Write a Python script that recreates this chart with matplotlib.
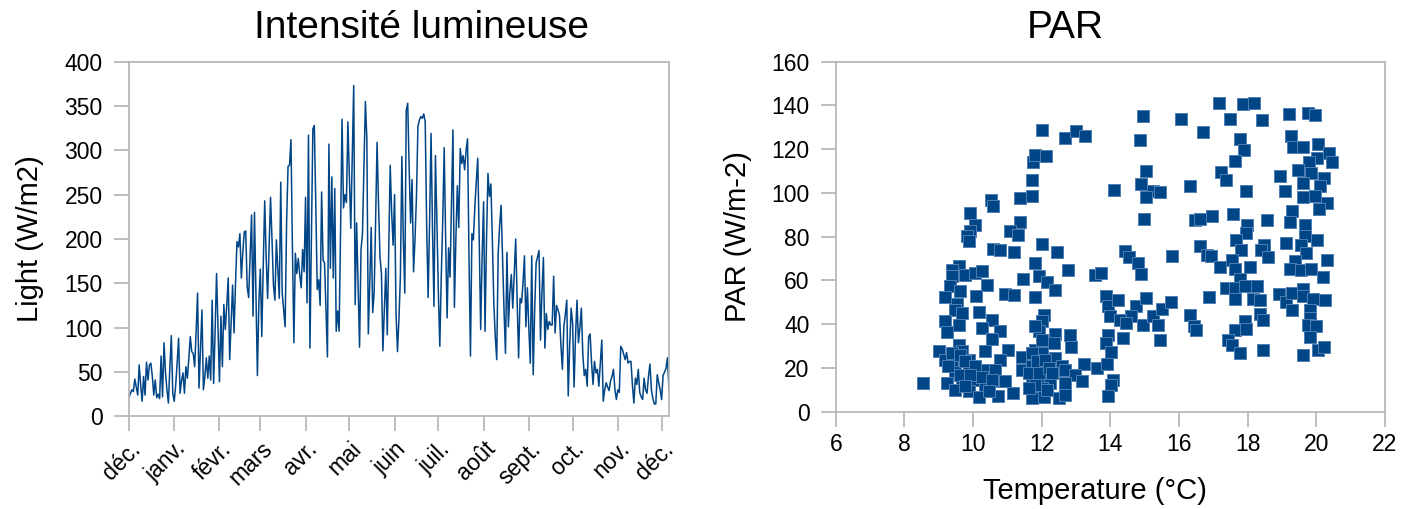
import matplotlib
matplotlib.use("Agg")
import matplotlib.pyplot as plt
import numpy as np
import datetime as dt

plt.rcParams['font.family'] = ['Liberation Sans', 'DejaVu Sans']

# daily light intensity (W/m2), starting 1 December
light = [
    21, 26, 30, 28, 42, 33, 24, 58, 35, 17,
    45, 24, 61, 41, 58, 60, 45, 24, 41, 21,
    25, 20, 68, 22, 83, 50, 30, 15, 55, 91,
    26, 17, 35, 60, 88, 26, 40, 49, 26, 56,
    43, 65, 90, 73, 71, 56, 95, 139, 32, 75,
    120, 30, 45, 66, 43, 68, 41, 131, 37, 95,
    161, 100, 39, 113, 56, 126, 98, 125, 156, 64,
    105, 148, 94, 150, 197, 191, 206, 156, 185, 208,
    209, 146, 134, 180, 227, 113, 230, 140, 46, 128,
    166, 90, 170, 243, 180, 133, 190, 247, 200, 148,
    131, 199, 165, 133, 264, 139, 120, 101, 218, 282,
    283, 312, 190, 83, 184, 161, 178, 160, 145, 188,
    163, 247, 128, 317, 77, 200, 324, 328, 240, 143,
    154, 125, 253, 176, 173, 120, 67, 307, 167, 270,
    156, 257, 96, 119, 96, 210, 335, 235, 250, 241,
    332, 270, 212, 290, 373, 126, 218, 150, 78, 188,
    206, 280, 355, 313, 93, 150, 213, 117, 139, 220,
    309, 240, 180, 161, 74, 120, 167, 92, 190, 283,
    230, 193, 250, 116, 73, 110, 158, 293, 200, 139,
    345, 353, 280, 218, 267, 163, 200, 248, 327, 334,
    338, 336, 341, 332, 214, 134, 220, 319, 210, 124,
    294, 220, 140, 79, 158, 220, 303, 200, 111, 190,
    157, 240, 323, 123, 200, 260, 213, 302, 285, 294,
    278, 300, 313, 180, 68, 206, 199, 236, 265, 291,
    200, 98, 180, 242, 96, 200, 274, 248, 262, 200,
    128, 90, 64, 184, 215, 238, 180, 120, 71, 185,
    101, 140, 160, 122, 160, 200, 130, 66, 133, 128,
    150, 181, 101, 145, 100, 60, 181, 47, 120, 173,
    180, 187, 86, 140, 179, 77, 116, 98, 107, 103,
    103, 158, 94, 125, 120, 114, 80, 53, 101, 115,
    131, 23, 80, 122, 105, 33, 90, 131, 83, 100,
    122, 70, 46, 53, 34, 90, 93, 60, 36, 62,
    49, 53, 34, 60, 86, 17, 30, 38, 33, 29,
    40, 45, 53, 30, 19, 30, 27, 79, 76, 70,
    64, 72, 60, 62, 62, 35, 15, 43, 36, 53,
    27, 22, 19, 43, 30, 26, 45, 59, 30, 20,
    14, 14, 47, 38, 30, 19, 46, 50, 54, 66, 32,
]
start = dt.date(2012, 12, 1)
dates = [start + dt.timedelta(days=i) for i in range(len(light))]
month_labels = ['déc.', 'janv.', 'févr.', 'mars', 'avr.', 'mai', 'juin',
                'juil.', 'août', 'sept.', 'oct.', 'nov.', 'déc.']

# PAR vs temperature
temp = [
    8.55, 12.0, 12.68, 13.0, 13.27, 11.76, 11.81, 12.12, 11.73, 11.37, 11.71,
    10.53, 10.57, 9.9, 10.06, 9.92, 9.82, 9.87, 11.37, 11.08, 11.3, 12.02,
    12.44, 10.59, 10.79, 11.18, 11.81, 12.76, 13.56, 13.73, 9.58, 9.4, 9.38,
    9.77, 10.06, 10.26, 9.33, 9.62, 10.41, 10.09, 11.44, 11.91, 12.15, 12.39,
    9.19, 10.92, 11.18, 11.81, 9.53, 9.48, 9.67, 10.16, 9.19, 9.59, 9.24,
    10.55, 10.26, 10.79, 10.55, 12.08, 12.0, 11.93, 12.39, 12.83, 12.37,
    12.86, 9.01, 9.58, 9.67, 10.35, 11.03, 11.42, 9.19, 9.38, 9.87, 10.79,
    11.81, 12.0, 12.39, 9.48, 9.87, 10.16, 10.4, 10.64, 11.42, 11.71, 12.1,
    12.59, 12.69, 13.22, 13.61, 12.98, 9.67, 9.24, 10.06, 10.64, 10.94,
    11.71, 12.0, 12.25, 12.69, 13.16, 9.48, 9.87, 10.35, 11.15, 12.0, 10.16,
    10.74, 11.71, 12.08, 12.49, 12.69, 9.38, 9.62, 9.77, 9.28, 10.06, 9.62,
    9.91, 10.26, 10.55, 10.45, 9.77, 11.71, 11.86, 12.1, 11.62, 11.91, 12.2,
    11.81, 12.15, 11.62, 12.3, 12.0, 11.81,
    13.88, 13.93, 13.98, 13.93, 13.88, 14.03, 13.9, 14.08, 14.03, 13.93,
    14.22, 14.76, 15.05, 14.61, 14.27, 14.47, 14.95, 15.24, 15.49, 15.78,
    15.39, 14.37, 15.46, 16.33, 16.43, 16.49, 16.88, 14.42, 14.54, 14.81,
    14.9, 15.81, 14.95, 16.07, 14.86, 15.05, 14.9, 15.23, 15.45, 15.03,
    16.31, 14.1, 14.97, 16.46, 16.6, 16.97, 16.7, 17.16, 17.48, 17.87,
    18.18, 18.41, 17.77, 17.89, 17.63, 17.21, 17.36, 17.96, 17.58, 17.99,
    17.96, 17.66, 17.82, 16.62, 16.82, 16.92, 17.19, 17.53, 17.63, 18.06,
    18.49, 18.4, 18.59, 18.57, 17.78, 17.38, 17.63, 17.92, 18.26, 18.16,
    18.35, 17.63, 18.35, 18.45, 17.92, 17.63, 17.96, 17.43, 17.53, 17.77,
    18.45, 18.94, 19.08, 19.21, 19.76, 19.96, 19.26, 19.33, 19.62, 20.06,
    20.38, 20.45, 20.01, 19.78, 19.47, 19.86, 20.22, 19.62, 20.11, 19.62,
    19.96, 20.3, 20.09, 19.28, 19.23, 19.66, 19.66, 20.01, 19.13, 19.56,
    19.71, 19.37, 20.3, 19.23, 19.56, 19.86, 20.2, 18.91, 19.11, 19.28,
    19.3, 19.62, 19.62, 19.91, 20.25, 19.81, 19.81, 19.76, 19.98, 19.81,
    19.62, 20.05, 20.22,
]
par = [
    13.1, 128.6, 125.0, 128.3, 125.9, 114.0, 117.5, 116.7, 105.8, 97.7, 98.4,
    96.9, 93.9, 90.8, 85.5, 82.4, 80.2, 77.9, 86.6, 82.4, 80.9, 76.6,
    72.8, 74.4, 73.8, 72.8, 68.0, 64.6, 62.6, 63.4, 66.7, 64.6, 62.2,
    62.6, 63.4, 64.2, 57.6, 55.0, 58.1, 53.0, 60.6, 61.9, 59.1, 55.5,
    52.4, 53.8, 53.5, 52.4, 49.4, 46.3, 45.1, 45.4, 41.3, 39.8, 36.3,
    42.1, 38.2, 36.7, 33.2, 44.3, 41.3, 36.7, 35.7, 35.2, 31.4,
    29.6, 27.6, 30.6, 27.6, 27.6, 28.3, 25.0, 23.8, 23.0, 23.8, 23.8,
    28.3, 26.8, 24.5, 18.4, 19.2, 18.4, 19.2, 19.2, 19.2, 20.7, 18.4,
    20.7, 19.2, 21.9, 20.0, 16.9, 14.6, 13.1, 14.6, 13.9, 13.9,
    14.6, 14.6, 13.1, 13.1, 13.9, 10.1, 9.3, 10.8, 8.8, 10.8, 6.7,
    7.0, 6.2, 6.7, 6.2, 7.8, 26.8, 26.0, 23.0, 20.7, 21.1, 16.8,
    16.9, 16.1, 14.6, 9.3, 11.6, 26.8, 23.0, 23.8, 17.7, 17.7, 20.0,
    12.3, 10.1, 10.8, 17.7, 32.9, 39.0,
    52.7, 48.2, 43.6, 35.2, 31.4, 27.1, 21.9, 14.6, 12.3, 7.0,
    50.9, 48.5, 52.0, 43.9, 42.1, 40.5, 39.8, 43.6, 46.9, 50.0,
    39.8, 33.7, 32.6, 44.3, 39.0, 37.2, 52.4, 73.3, 70.7, 68.0,
    63.1, 71.3, 135.3, 133.8, 124.3, 109.9, 104.2, 100.7, 100.3, 98.1,
    103.0, 101.5, 88.1, 87.5, 88.1, 89.6, 127.7, 141.1, 133.8, 140.6,
    141.1, 133.2, 124.6, 119.8, 114.4, 109.4, 105.8, 101.0, 90.5, 85.5,
    81.7, 78.6, 73.8, 75.9, 71.8, 71.3, 66.1, 69.5, 65.2, 66.1,
    76.3, 73.8, 70.7, 87.8, 60.6, 56.5, 56.5, 57.3, 57.3, 51.5,
    51.2, 51.5, 44.8, 41.8, 41.3, 37.2, 37.8, 32.9, 30.6, 26.8,
    28.3, 107.9, 100.7, 136.2, 136.5, 135.8, 126.2, 121.0, 121.0, 122.5,
    118.2, 114.0, 116.0, 114.0, 110.3, 109.1, 106.8, 104.5, 103.3, 98.1,
    98.4, 95.4, 92.6, 91.6, 86.6, 85.5, 80.2, 78.6, 77.1, 76.3,
    72.5, 68.7, 69.2, 65.2, 64.9, 65.2, 61.6, 53.9, 50.0, 54.3,
    46.6, 56.1, 52.7, 51.5, 50.9, 46.6, 42.8, 39.8, 39.0, 34.1,
    26.1, 28.3, 29.6,
]

blue = '#004586'
grey = '#b3b3b3'

fig = plt.figure(figsize=(14.19, 5.09), dpi=100)
ax1 = fig.add_axes([0.0909, 0.182, 0.3805, 0.697])
ax2 = fig.add_axes([0.589, 0.191, 0.387, 0.688])

for ax in (ax1, ax2):
    for s in ax.spines.values():
        s.set_color(grey)
        s.set_linewidth(1.2)
    ax.tick_params(colors=grey, labelcolor='black', labelsize=16.5,
                   length=11, width=1.2, direction='out')
    ax.tick_params(axis='y', pad=8)
    ax.tick_params(axis='x', pad=4)

# left: light intensity
ax1.plot(dates, light, color=blue, lw=1.1)
ax1.set_ylim(0, 400)
ax1.set_yticks(np.arange(0, 401, 50))
ax1.set_xlim(dates[0], dates[-1])
month_ticks = [dt.date(2012 + (11 + m) // 12, (11 + m) % 12 + 1, 1) for m in range(13)]
ax1.set_xticks(month_ticks)
ax1.set_xticklabels(month_labels, rotation=45, ha='right', rotation_mode='anchor')
ax1.set_ylabel('Light (W/m2)', fontsize=21)
ax1.yaxis.set_label_coords(-0.157, 0.5)

# right: PAR vs temperature
ax2.scatter(temp, par, marker='s', s=64, color=blue, edgecolors='#4f7fb3',
            linewidths=0.7, zorder=3)
ax2.set_xlim(6, 22)
ax2.set_ylim(0, 160)
ax2.set_xticks(np.arange(6, 23, 2))
ax2.set_yticks(np.arange(0, 161, 20))
ax2.set_xlabel('Temperature (°C)', fontsize=21)
ax2.xaxis.set_label_coords(0.472, -0.185)
ax2.set_ylabel('PAR (W/m-2)', fontsize=21)
ax2.yaxis.set_label_coords(-0.153, 0.5)

fig.text(0.297, 0.945, 'Intensité lumineuse', fontsize=28, ha='center', va='center')
fig.text(0.751, 0.945, 'PAR', fontsize=28, ha='center', va='center')

fig.savefig('out.png', dpi=100)
